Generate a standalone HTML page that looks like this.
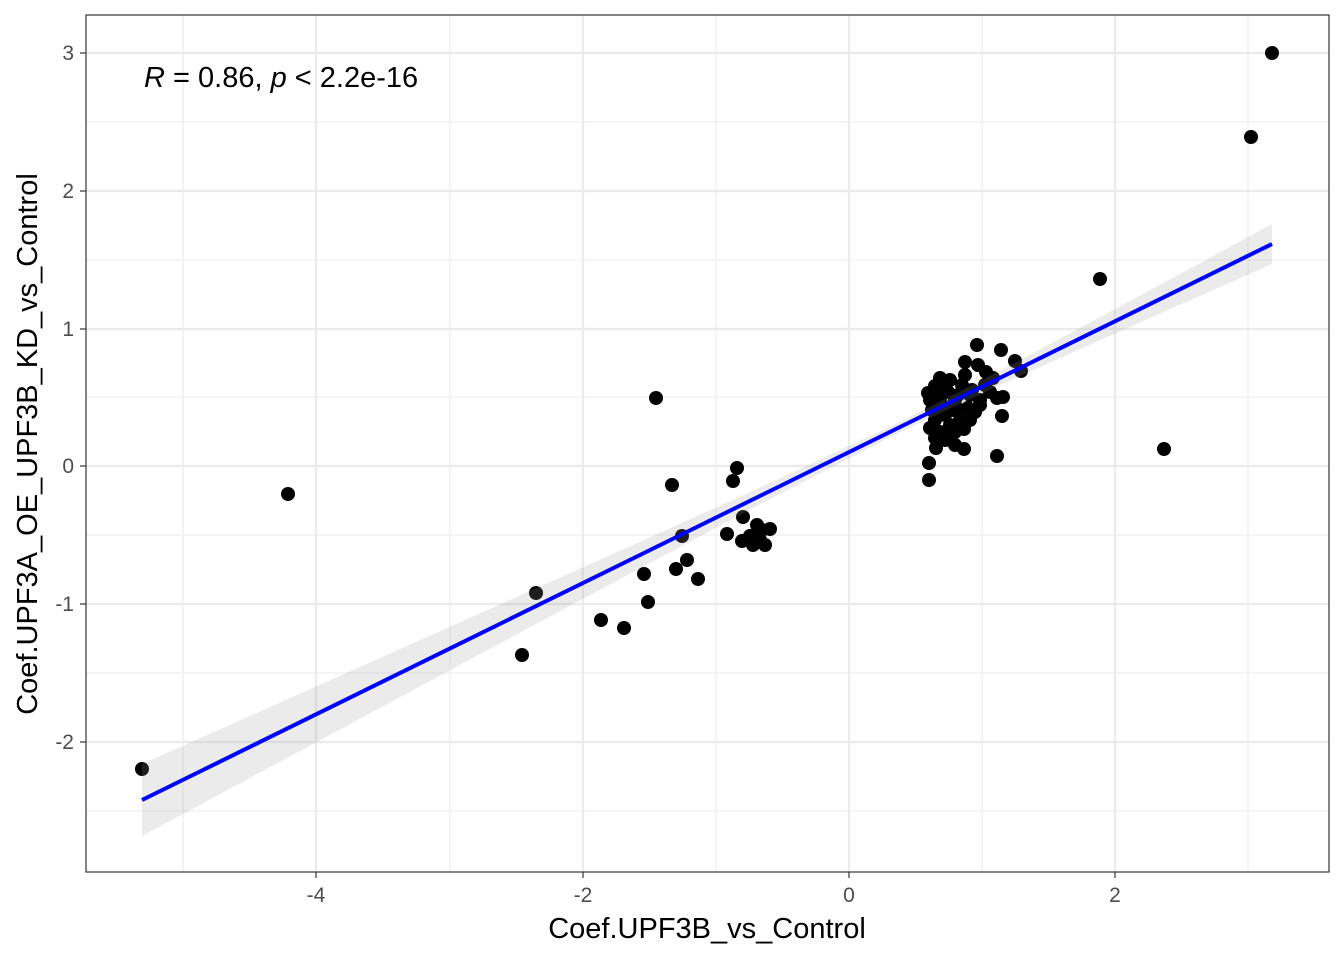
<!DOCTYPE html>
<html><head><meta charset="utf-8"><style>
html,body{margin:0;padding:0;background:#fff;}
svg{display:block;font-family:"Liberation Sans",sans-serif;}
</style></head><body>
<svg width="1344" height="960" viewBox="0 0 1344 960" xmlns="http://www.w3.org/2000/svg">
<rect x="0" y="0" width="1344" height="960" fill="#fff"/>
<g stroke="#ebebeb" stroke-width="1.1">
<line x1="183" y1="15" x2="183" y2="872"/><line x1="450" y1="15" x2="450" y2="872"/><line x1="716" y1="15" x2="716" y2="872"/><line x1="982" y1="15" x2="982" y2="872"/><line x1="1248" y1="15" x2="1248" y2="872"/>
<line x1="86" y1="122" x2="1329" y2="122"/><line x1="86" y1="260" x2="1329" y2="260"/><line x1="86" y1="397" x2="1329" y2="397"/><line x1="86" y1="535" x2="1329" y2="535"/><line x1="86" y1="673" x2="1329" y2="673"/><line x1="86" y1="811" x2="1329" y2="811"/>
</g>
<g stroke="#ebebeb" stroke-width="2.2">
<line x1="316" y1="15" x2="316" y2="872"/><line x1="583" y1="15" x2="583" y2="872"/><line x1="849" y1="15" x2="849" y2="872"/><line x1="1115" y1="15" x2="1115" y2="872"/>
<line x1="86" y1="53" x2="1329" y2="53"/><line x1="86" y1="191" x2="1329" y2="191"/><line x1="86" y1="329" x2="1329" y2="329"/><line x1="86" y1="466" x2="1329" y2="466"/><line x1="86" y1="604" x2="1329" y2="604"/><line x1="86" y1="742" x2="1329" y2="742"/>
</g>
<g fill="#000">
<circle cx="1272" cy="53" r="7"/><circle cx="1251" cy="137" r="7"/><circle cx="1100" cy="279" r="7"/><circle cx="1164" cy="449" r="7"/><circle cx="288" cy="494" r="7"/><circle cx="142" cy="769" r="7"/><circle cx="522" cy="655" r="7"/><circle cx="536" cy="593" r="7"/><circle cx="601" cy="620" r="7"/><circle cx="624" cy="628" r="7"/><circle cx="644" cy="574" r="7"/><circle cx="648" cy="602" r="7"/><circle cx="656" cy="398" r="7"/><circle cx="672" cy="485" r="7"/><circle cx="676" cy="569" r="7"/><circle cx="682" cy="536" r="7"/><circle cx="687" cy="560" r="7"/><circle cx="698" cy="579" r="7"/><circle cx="727" cy="534" r="7"/><circle cx="733" cy="481" r="7"/><circle cx="737" cy="468" r="7"/><circle cx="743" cy="517" r="7"/><circle cx="742" cy="541" r="7"/><circle cx="750" cy="536" r="7"/><circle cx="753" cy="545" r="7"/><circle cx="757" cy="525" r="7"/><circle cx="762" cy="530" r="7"/><circle cx="765" cy="545" r="7"/><circle cx="770" cy="529" r="7"/><circle cx="760" cy="540" r="7"/>
<circle cx="977" cy="345" r="7"/><circle cx="1001" cy="350" r="7"/><circle cx="1015" cy="361" r="7"/><circle cx="965" cy="362" r="7"/><circle cx="978" cy="365" r="7"/><circle cx="986" cy="372" r="7"/><circle cx="1021" cy="371" r="7"/><circle cx="993" cy="378" r="7"/><circle cx="1003" cy="397" r="7"/><circle cx="997" cy="398" r="7"/><circle cx="1002" cy="416" r="7"/><circle cx="964" cy="429" r="7"/><circle cx="997" cy="456" r="7"/><circle cx="964" cy="449" r="7"/><circle cx="936" cy="448" r="7"/><circle cx="929" cy="463" r="7"/><circle cx="929" cy="480" r="7"/><circle cx="928" cy="393" r="7"/><circle cx="935" cy="386" r="7"/><circle cx="945" cy="383" r="7"/><circle cx="950" cy="380" r="7"/><circle cx="930" cy="400" r="7"/><circle cx="940" cy="400" r="7"/><circle cx="955" cy="400" r="7"/><circle cx="970" cy="395" r="7"/><circle cx="960" cy="410" r="7"/><circle cx="945" cy="415" r="7"/><circle cx="935" cy="420" r="7"/><circle cx="930" cy="428" r="7"/><circle cx="950" cy="425" r="7"/><circle cx="940" cy="432" r="7"/><circle cx="955" cy="432" r="7"/><circle cx="970" cy="420" r="7"/><circle cx="980" cy="405" r="7"/><circle cx="990" cy="392" r="7"/><circle cx="985" cy="385" r="7"/><circle cx="972" cy="390" r="7"/><circle cx="962" cy="385" r="7"/><circle cx="948" cy="392" r="7"/><circle cx="958" cy="395" r="7"/><circle cx="975" cy="412" r="7"/><circle cx="968" cy="408" r="7"/><circle cx="942" cy="405" r="7"/><circle cx="932" cy="410" r="7"/><circle cx="952" cy="410" r="7"/><circle cx="938" cy="415" r="7"/><circle cx="960" cy="420" r="7"/><circle cx="935" cy="395" r="7"/><circle cx="944" cy="393" r="7"/><circle cx="980" cy="400" r="7"/><circle cx="965" cy="375" r="7"/><circle cx="945" cy="440" r="7"/><circle cx="955" cy="445" r="7"/><circle cx="935" cy="438" r="7"/><circle cx="950" cy="435" r="7"/><circle cx="940" cy="378" r="7"/>
</g>
<path d="M142,764 L300,693.6 L450,626.8 L600,559.7 L750,492.2 L900,422.1 L1000,370.7 L1100,317.2 L1200,263.1 L1272,224 L1272,264 L1200,295.9 L1100,340.2 L1000,385.1 L900,432.1 L750,509.6 L600,589.7 L450,670.2 L300,751 L142,836 Z" fill="#999" fill-opacity="0.2"/>
<line x1="142" y1="800" x2="1272" y2="244" stroke="#0000ff" stroke-width="4"/>
<rect x="86" y="15" width="1243" height="857" fill="none" stroke="#333" stroke-width="1.2"/>
<g stroke="#333" stroke-width="1.2">
<line x1="316" y1="872" x2="316" y2="878"/><line x1="583" y1="872" x2="583" y2="878"/><line x1="849" y1="872" x2="849" y2="878"/><line x1="1115" y1="872" x2="1115" y2="878"/>
<line x1="80" y1="53" x2="86" y2="53"/><line x1="80" y1="191" x2="86" y2="191"/><line x1="80" y1="329" x2="86" y2="329"/><line x1="80" y1="466" x2="86" y2="466"/><line x1="80" y1="604" x2="86" y2="604"/><line x1="80" y1="742" x2="86" y2="742"/>
</g>
<g fill="#4d4d4d" font-size="21" text-anchor="middle">
<text x="316" y="902">-4</text><text x="583" y="902">-2</text><text x="849" y="902">0</text><text x="1115" y="902">2</text>
</g>
<g fill="#4d4d4d" font-size="21" text-anchor="end">
<text x="74" y="60">3</text><text x="74" y="198">2</text><text x="74" y="336">1</text><text x="74" y="473">0</text><text x="74" y="611">-1</text><text x="74" y="749">-2</text>
</g>
<text x="707" y="938" font-size="29" text-anchor="middle" fill="#000">Coef.UPF3B_vs_Control</text>
<text transform="translate(37,444) rotate(-90)" font-size="29" text-anchor="middle" fill="#000">Coef.UPF3A_OE_UPF3B_KD_vs_Control</text>
<text x="144" y="87" font-size="29" fill="#000"><tspan font-style="italic">R</tspan> = 0.86, <tspan font-style="italic">p</tspan> &lt; 2.2e-16</text>
</svg>
</body></html>
